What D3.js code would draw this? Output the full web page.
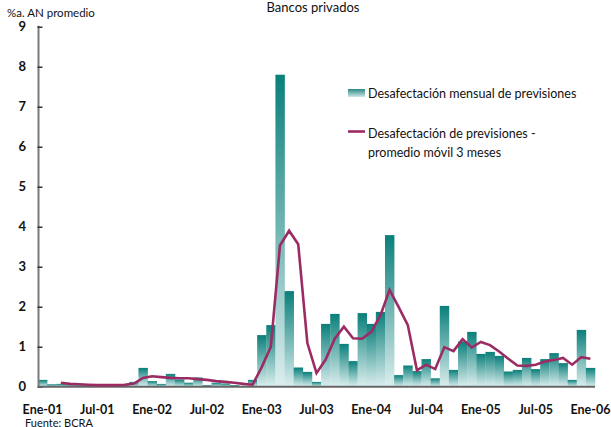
<!DOCTYPE html>
<html>
<head>
<meta charset="utf-8">
<script src="https://cdn.jsdelivr.net/npm/d3@7"></script>
<style>
  html, body { margin: 0; padding: 0; background: #fff; }
  svg { display: block; }
  text { font-family: Lato, "Open Sans", sans-serif; fill: #111; }
</style>
</head>
<body>
<svg id="chart" width="611" height="427"></svg>
<script>
// Meses desde Ene-01 hasta Ene-06
const monthNames = ["Ene","Feb","Mar","Abr","May","Jun","Jul","Ago","Sep","Oct","Nov","Dic"];
const years = ["01","02","03","04","05","06"];
const months = [];
years.forEach(y => monthNames.forEach(m => months.push(m + "-" + y)));
months.length = 61;

// Desafectación mensual de previsiones (%a. AN promedio)
const monthly = [
  0.17, 0.06, 0.07, 0.06, 0.05, 0.04, 0.03, 0.03, 0.04, 0.05, 0.12, 0.47,
  0.14, 0.07, 0.32, 0.18, 0.10, 0.23, 0.04, 0.10, 0.08, 0.04, 0.02, 0.17,
  1.29, 1.54, 7.80, 2.39, 0.48, 0.37, 0.12, 1.57, 1.82, 1.07, 0.64, 1.84,
  1.57, 1.87, 3.79, 0.29, 0.53, 0.39, 0.69, 0.21, 2.02, 0.42, 1.13, 1.37,
  0.82, 0.87, 0.77, 0.38, 0.42, 0.72, 0.44, 0.69, 0.84, 0.59, 0.17, 1.42,
  0.47
];

// Promedio móvil 3 meses
const movingAvg = [
  null, null, 0.10, 0.07, 0.06, 0.05, 0.04, 0.04, 0.04, 0.05, 0.08, 0.22,
  0.26, 0.24, 0.22, 0.21, 0.21, 0.19, 0.17, 0.14, 0.12, 0.10, 0.07, 0.05,
  0.49, 1.00, 3.53, 3.90, 3.56, 1.09, 0.34, 0.68, 1.20, 1.50, 1.21, 1.20,
  1.37, 1.78, 2.42, 1.99, 1.54, 0.41, 0.55, 0.44, 0.99, 0.89, 1.19, 0.98,
  1.12, 1.04, 0.88, 0.70, 0.53, 0.52, 0.55, 0.63, 0.67, 0.72, 0.55, 0.74,
  0.70
];

const yTicks = [0, 1, 2, 3, 4, 5, 6, 7, 8, 9];
const xTickLabels = ["Ene-01","Jul-01","Ene-02","Jul-02","Ene-03","Jul-03",
                     "Ene-04","Jul-04","Ene-05","Jul-05","Ene-06"];

const barTop = "#0a7f7a", barBottom = "#dbeeee", lineColor = "#9b2c63";

const svg = d3.select("#chart");

const x = d3.scaleBand().domain(months).range([38, 595]).padding(0);
const y = d3.scaleLinear().domain([0, 9]).range([386.7, 26.7]);

// Degradé vertical de cada barra
const defs = svg.append("defs");
const grad = defs.append("linearGradient")
  .attr("id", "barGrad").attr("x1", 0).attr("y1", 0).attr("x2", 0).attr("y2", 1);
grad.append("stop").attr("offset", "0%").attr("stop-color", barTop);
grad.append("stop").attr("offset", "100%").attr("stop-color", barBottom);

// Barras
svg.append("g").selectAll("rect")
  .data(monthly)
  .join("rect")
  .attr("x", (d, i) => x(months[i]))
  .attr("width", x.bandwidth() + 0.3)
  .attr("y", d => y(d))
  .attr("height", d => y(0) - y(d))
  .attr("fill", "url(#barGrad)");

// Eje Y
const yAxis = d3.axisLeft(y).tickValues(yTicks).tickSize(0).tickPadding(12)
  .tickFormat(d3.format("d"));
const gy = svg.append("g").attr("transform", "translate(38.5,0)").call(yAxis);
gy.select(".domain").attr("stroke", "#7a7a7a").attr("stroke-width", 2)
  .attr("d", `M0,${y(9) - 1}V${y(0)}`);
gy.selectAll(".tick text")
  .attr("font-size", 13).attr("font-weight", "bold")
  .attr("font-family", "Lato, sans-serif").attr("x", -12.5);
gy.selectAll(".tick").append("line")
  .attr("x1", -1).attr("x2", 4).attr("stroke", "#333").attr("stroke-width", 1.5);

// Eje X
const xAxis = d3.axisBottom(x)
  .tickValues(xTickLabels).tickSize(0).tickPadding(0);
const gx = svg.append("g").attr("transform", `translate(0,${y(0)})`).call(xAxis);
gx.select(".domain").attr("stroke", "#666").attr("stroke-width", 2)
  .attr("d", `M38,0H595`);
gx.selectAll(".tick text")
  .attr("font-size", 12.5).attr("font-weight", "bold")
  .attr("font-family", "Lato, sans-serif").attr("dy", 0).attr("y", 27);

// Línea de promedio móvil
const line = d3.line()
  .defined(d => d != null)
  .x((d, i) => x(months[i]) + x.bandwidth() / 2)
  .y(d => y(d));
svg.append("path")
  .attr("d", line(movingAvg))
  .attr("fill", "none")
  .attr("stroke", lineColor)
  .attr("stroke-width", 2.6)
  .attr("stroke-linejoin", "miter");

// Títulos
svg.append("text").attr("x", 313).attr("y", 12).attr("text-anchor", "middle")
  .attr("font-size", 13).text("Bancos privados");
svg.append("text").attr("x", 7).attr("y", 17).attr("font-size", 11.5)
  .text("%a. AN promedio");
svg.append("text").attr("x", 25).attr("y", 426.5).attr("font-size", 11)
  .text("Fuente: BCRA");

// Leyenda
const legend = svg.append("g");
const lgGrad = defs.append("linearGradient")
  .attr("id", "legGrad").attr("x1", 0).attr("y1", 0).attr("x2", 0).attr("y2", 1);
lgGrad.append("stop").attr("offset", "0%").attr("stop-color", "#2a8a86");
lgGrad.append("stop").attr("offset", "100%").attr("stop-color", "#cfe6e6");
legend.append("rect").attr("x", 348).attr("y", 89).attr("width", 17).attr("height", 8)
  .attr("fill", "url(#legGrad)");
legend.append("text").attr("x", 368).attr("y", 97.5).attr("font-size", 12.5)
  .text("Desafectación mensual de previsiones");
legend.append("line").attr("x1", 348).attr("x2", 365).attr("y1", 131.5).attr("y2", 131.5)
  .attr("stroke", lineColor).attr("stroke-width", 2.6);
legend.append("text").attr("x", 368).attr("y", 137.5).attr("font-size", 12.5)
  .text("Desafectación de previsiones -");
legend.append("text").attr("x", 368).attr("y", 156.5).attr("font-size", 12.5)
  .text("promedio móvil 3 meses");
</script>
</body>
</html>
